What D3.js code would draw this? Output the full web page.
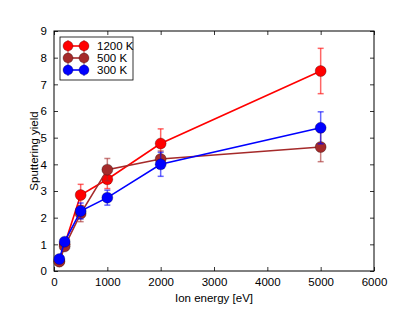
<!DOCTYPE html>
<html>
<head>
<meta charset="utf-8">
<script src="https://cdn.jsdelivr.net/npm/d3@7"></script>
<style>
  body { margin: 0; background: #fff; }
  svg { display: block; font-family: "Liberation Sans", Arial, sans-serif; }
</style>
</head>
<body>
<svg id="chart"></svg>
<script>
const width = 415;
const height = 312;
const fontSize = 11.5;

// ion energies (eV)
const energies = [100, 200, 500, 1000, 2000, 5000];

const seriesNames = ["1200 K", "500 K", "300 K"];
const seriesColors = ["#ff0000", "#a52a2a", "#0000ff"];

const yield1200 = [0.37, 1.0, 2.85, 3.44, 4.78, 7.5];
const err1200 = [0.05, 0.1, 0.4, 0.35, 0.55, 0.85];

const yield500 = [0.35, 0.92, 2.15, 3.8, 4.2, 4.65];
const err500 = [0.05, 0.1, 0.3, 0.42, 0.3, 0.55];

const yield300 = [0.45, 1.1, 2.25, 2.75, 4.0, 5.37];
const err300 = [0.05, 0.1, 0.3, 0.28, 0.45, 0.6];

const xTicks = [0, 1000, 2000, 3000, 4000, 5000, 6000];
const yTicks = [0, 1, 2, 3, 4, 5, 6, 7, 8, 9];

const series = [
  { name: seriesNames[0], color: seriesColors[0], values: yield1200, errs: err1200 },
  { name: seriesNames[1], color: seriesColors[1], values: yield500, errs: err500 },
  { name: seriesNames[2], color: seriesColors[2], values: yield300, errs: err300 }
];

const margin = { top: 31, right: 41, bottom: 41, left: 54 };

const x = d3.scaleLinear().domain([0, 6000]).range([margin.left, width - margin.right]);
const y = d3.scaleLinear().domain([0, 9]).range([height - margin.bottom, margin.top]);

const svg = d3.select("#chart")
    .attr("width", width)
    .attr("height", height)
    .attr("viewBox", [0, 0, width, height]);

// axes, ticks pointing inward
const tickLen = 4;
const fmt = d3.format("d");
svg.append("g")
    .attr("transform", `translate(0,${y(0)})`)
    .call(d3.axisBottom(x).tickValues(xTicks).tickFormat(fmt).tickSizeInner(-tickLen).tickSizeOuter(0).tickPadding(7))
    .call(g => g.select(".domain").remove());
svg.append("g")
    .attr("transform", `translate(0,${y(9)})`)
    .call(d3.axisTop(x).tickValues(xTicks).tickSizeInner(-tickLen).tickSizeOuter(0).tickFormat(""))
    .call(g => g.select(".domain").remove());
svg.append("g")
    .attr("transform", `translate(${x(0)},0)`)
    .call(d3.axisLeft(y).tickValues(yTicks).tickFormat(fmt).tickSizeInner(-tickLen).tickSizeOuter(0).tickPadding(7))
    .call(g => g.select(".domain").remove());
svg.append("g")
    .attr("transform", `translate(${x(6000)},0)`)
    .call(d3.axisRight(y).tickValues(yTicks).tickSizeInner(-tickLen).tickSizeOuter(0).tickFormat(""))
    .call(g => g.select(".domain").remove());

svg.selectAll(".tick text")
    .attr("font-size", fontSize)
    .attr("font-family", "Liberation Sans, Arial, sans-serif")
    .attr("fill", "#000");
svg.selectAll(".tick line").attr("stroke", "#000").attr("stroke-width", 0.8);

// frame
svg.append("rect")
    .attr("x", x(0))
    .attr("y", y(9))
    .attr("width", x(6000) - x(0))
    .attr("height", y(0) - y(9))
    .attr("fill", "none")
    .attr("stroke", "#000")
    .attr("stroke-width", 1);

const line = d3.line()
    .x((d, i) => x(energies[i]))
    .y(d => y(d));

const capW = 3;
series.forEach(s => {
  const g = svg.append("g");
  // error bars
  const eb = g.append("g")
      .attr("stroke", s.color)
      .attr("stroke-opacity", 0.6)
      .attr("stroke-width", 1.5);
  s.values.forEach((v, i) => {
    const cx = x(energies[i]);
    const lo = y(v - s.errs[i]);
    const hi = y(v + s.errs[i]);
    eb.append("line").attr("x1", cx).attr("x2", cx).attr("y1", lo).attr("y2", hi);
    eb.append("line").attr("x1", cx - capW).attr("x2", cx + capW).attr("y1", lo).attr("y2", lo);
    eb.append("line").attr("x1", cx - capW).attr("x2", cx + capW).attr("y1", hi).attr("y2", hi);
  });
  g.append("path")
      .datum(s.values)
      .attr("fill", "none")
      .attr("stroke", s.color)
      .attr("stroke-width", 1.6)
      .attr("d", line);
  g.selectAll("circle")
      .data(s.values)
      .join("circle")
      .attr("cx", (d, i) => x(energies[i]))
      .attr("cy", d => y(d))
      .attr("r", 5.5)
      .attr("fill", s.color)
      .attr("stroke", "#000")
      .attr("stroke-opacity", 0.35)
      .attr("stroke-width", 0.8);
});

// legend
const legend = svg.append("g");
legend.append("rect")
    .attr("x", 60)
    .attr("y", 37)
    .attr("width", 73)
    .attr("height", 43)
    .attr("fill", "#fff")
    .attr("stroke", "#000")
    .attr("stroke-width", 0.8);
series.forEach((s, i) => {
  const ly = 46 + i * 12;
  const gi = legend.append("g").attr("stroke", s.color);
  gi.append("line").attr("x1", 68).attr("x2", 84).attr("y1", ly).attr("y2", ly).attr("stroke-width", 1.6);
  [68, 84].forEach(lx => {
    gi.append("line").attr("x1", lx).attr("x2", lx).attr("y1", ly - 6).attr("y2", ly + 6)
        .attr("stroke-opacity", 0.6).attr("stroke-width", 1.5);
    gi.append("circle").attr("cx", lx).attr("cy", ly).attr("r", 5)
        .attr("fill", s.color).attr("stroke", "#000").attr("stroke-opacity", 0.35).attr("stroke-width", 0.8);
  });
  legend.append("text")
      .attr("x", 97)
      .attr("y", ly + 4)
      .attr("font-size", fontSize)
      .attr("fill", "#000")
      .text(s.name);
});

// axis labels
svg.append("text")
    .attr("x", (x(0) + x(6000)) / 2)
    .attr("y", 302)
    .attr("text-anchor", "middle")
    .attr("font-size", fontSize)
    .text("Ion energy [eV]");
svg.append("text")
    .attr("transform", `translate(38,${(y(0) + y(9)) / 2}) rotate(-90)`)
    .attr("text-anchor", "middle")
    .attr("font-size", fontSize)
    .text("Sputtering yield");
</script>
</body>
</html>
